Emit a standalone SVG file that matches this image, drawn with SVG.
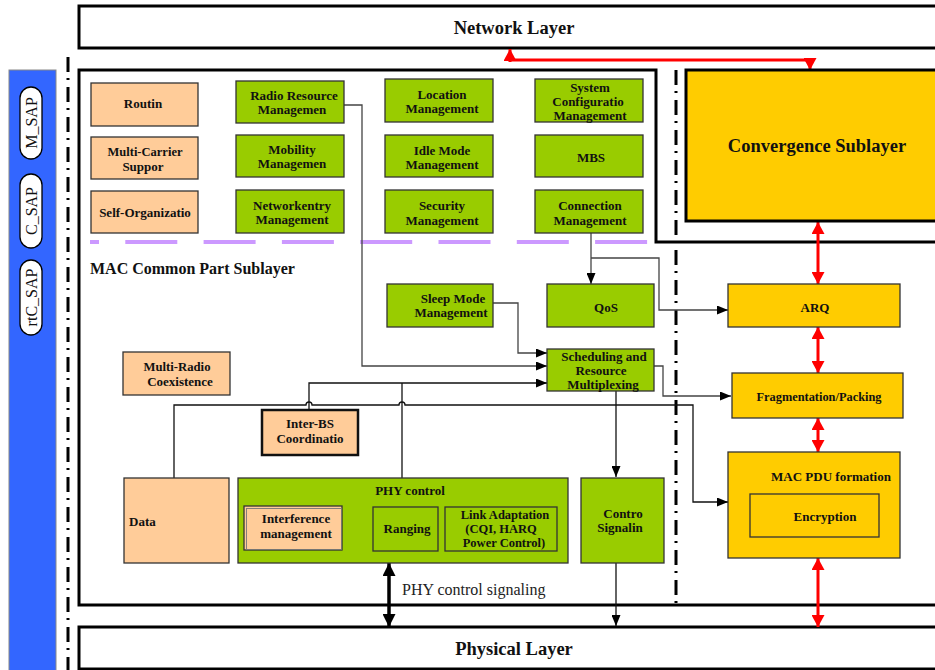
<svg xmlns="http://www.w3.org/2000/svg" width="935" height="670" viewBox="0 0 935 670">
  <style>
    .t { font-family: "Liberation Serif", "Times New Roman", serif; font-weight: bold; font-size: 13px; text-anchor: middle; fill: #111; }
    .big { font-size: 18.5px; }
    .sap { font-family: "Liberation Serif", "Times New Roman", serif; font-size: 16px; text-anchor: middle; fill: #111; }
    .peach { fill: #FFCC99; stroke: #333; stroke-width: 1.3; }
    .green { fill: #99CC00; stroke: #333; stroke-width: 1.3; }
    .yellow { fill: #FFCC00; stroke: #333; stroke-width: 1.3; }
    .frame { fill: none; stroke: #000; stroke-width: 3; }
    .dashdot { fill: none; stroke: #000; stroke-width: 3; stroke-dasharray: 15 6 2 7; }
    .wire { fill: none; stroke: #444; stroke-width: 1.3; }
    .wireb { fill: none; stroke: #111; stroke-width: 1.3; }
    .red { fill: none; stroke: #FF0000; stroke-width: 3; }
    .thick { fill: none; stroke: #000; stroke-width: 3.5; }
  </style>
  <defs>
    <marker id="arr" markerUnits="userSpaceOnUse" markerWidth="11" markerHeight="9" refX="11" refY="4.5" orient="auto">
      <path d="M0,0 L11,4.5 L0,9 z" fill="#000"/>
    </marker>
    <marker id="redArr" markerUnits="userSpaceOnUse" markerWidth="12" markerHeight="13" refX="12" refY="6.5" orient="auto-start-reverse">
      <path d="M0,0 L12,6.5 L0,13 z" fill="#FF0000"/>
    </marker>
    <marker id="blkArr" markerUnits="userSpaceOnUse" markerWidth="13" markerHeight="13" refX="13" refY="6.5" orient="auto-start-reverse">
      <path d="M0,0 L13,6.5 L0,13 z" fill="#000"/>
    </marker>
  </defs>

  <rect width="935" height="670" fill="#fff"/>

  <!-- SAP bar -->
  <g id="sap-bar">
    <rect x="9" y="70" width="47" height="610" fill="#3366FF" stroke="#888" stroke-width="1"/>
    <rect x="20" y="87" width="22" height="72" rx="11" fill="#fff" stroke="#000" stroke-width="1.3"/>
    <text class="sap" transform="translate(36.5,123) rotate(-90)">M_SAP</text>
    <rect x="20" y="174" width="22" height="74" rx="11" fill="#fff" stroke="#000" stroke-width="1.3"/>
    <text class="sap" transform="translate(36.5,211) rotate(-90)">C_SAP</text>
    <rect x="20" y="260" width="22" height="75" rx="11" fill="#fff" stroke="#000" stroke-width="1.3"/>
    <text class="sap" transform="translate(36.5,297.5) rotate(-90)">rtC_SAP</text>
  </g>

  <!-- layer frames and boundaries -->
  <g id="frames">
    <line class="dashdot" x1="68" y1="57" x2="68" y2="670"/>
    <line class="dashdot" x1="676" y1="70" x2="676" y2="605"/>
    <path class="frame" d="M940,242 H656 V70 H79 V605 H940"/>
    <line x1="90" y1="242" x2="648" y2="242" stroke="#CC99FF" stroke-width="4" stroke-dasharray="52 26.3" stroke-dashoffset="43"/>
    <text class="t" x="90" y="274" style="text-anchor:start;font-size:16px">MAC Common Part Sublayer</text>
  </g>

  <g id="network-layer">
    <rect class="frame" x="79" y="6" width="870" height="42"/>
    <text class="t big" x="514" y="34">Network Layer</text>
  </g>
  <g id="physical-layer">
    <rect class="frame" x="79" y="627" width="870" height="42"/>
    <text class="t big" x="514" y="655">Physical Layer</text>
  </g>

  <!-- connectors -->
  <g id="connectors">
    <path class="wire" d="M344,105 H362 V366 H547" marker-end="url(#arr)"/>
    <path class="wire" d="M493,303 H518 V353 H547" marker-end="url(#arr)"/>
    <path class="wire" d="M591,233 V284" marker-end="url(#arr)"/>
    <path class="wire" d="M591,258 H659 V310 H728" marker-end="url(#arr)"/>
    <path class="wire" d="M654,366 H663 V396 H731" marker-end="url(#arr)"/>
    <path class="wireb" d="M616,391 V477" marker-end="url(#arr)"/>
    <path class="wireb" d="M616,563 V626" marker-end="url(#arr)"/>
    <path class="wireb" d="M309,410 V383 H547" marker-end="url(#arr)"/>
    <path class="wireb" d="M402,478 V383"/>
    <path class="wireb" d="M174,478 V405 H306 a3,3 0 0 1 6,0 H399 a3,3 0 0 1 6,0 H693 V502 H728" marker-end="url(#arr)"/>

    <path class="red" d="M510,60 H810"/>
    <path class="red" d="M510,62 V49" marker-end="url(#redArr)"/>
    <path class="red" d="M810,58 V70" marker-end="url(#redArr)"/>
    <path class="red" d="M818,222 V284" marker-start="url(#redArr)" marker-end="url(#redArr)"/>
    <path class="red" d="M818,327 V373" marker-start="url(#redArr)" marker-end="url(#redArr)"/>
    <path class="red" d="M818,418 V452" marker-start="url(#redArr)" marker-end="url(#redArr)"/>
    <path class="red" d="M818,558 V627" marker-start="url(#redArr)" marker-end="url(#redArr)"/>

    <path class="thick" d="M389,563 V627" marker-start="url(#blkArr)" marker-end="url(#blkArr)"/>
    <text x="402" y="595" style="font-family:'Liberation Serif','Times New Roman',serif;font-size:16px;fill:#222">PHY control signaling</text>
  </g>

  <!-- management entities -->
  <g id="routing"><rect class="peach" x="91" y="83" width="107" height="43"/><text class="t" x="143" y="108">Routin</text></g>
  <g id="multicarrier"><rect class="peach" x="91" y="137" width="107" height="42"/><text class="t" x="145" y="156" textLength="75" lengthAdjust="spacingAndGlyphs">Multi-Carrier</text><text class="t" x="143" y="171">Suppor</text></g>
  <g id="self-org"><rect class="peach" x="91" y="191" width="107" height="42"/><text class="t" x="145" y="217">Self-Organizatio</text></g>

  <g id="rrm"><rect class="green" x="236" y="81" width="108" height="42"/><text class="t" x="294" y="100">Radio Resource</text><text class="t" x="292" y="114">Managemen</text></g>
  <g id="mobility"><rect class="green" x="236" y="135" width="108" height="42"/><text class="t" x="292" y="154">Mobility</text><text class="t" x="292" y="168">Managemen</text></g>
  <g id="network-entry"><rect class="green" x="236" y="190" width="108" height="43"/><text class="t" x="292" y="210">Networkentry</text><text class="t" x="292" y="224">Management</text></g>

  <g id="location"><rect class="green" x="385" y="79" width="108" height="43"/><text class="t" x="442" y="99">Location</text><text class="t" x="442" y="113">Management</text></g>
  <g id="idle-mode"><rect class="green" x="385" y="135" width="108" height="42"/><text class="t" x="442" y="155">Idle Mode</text><text class="t" x="442" y="169">Management</text></g>
  <g id="security"><rect class="green" x="385" y="190" width="108" height="43"/><text class="t" x="442" y="210">Security</text><text class="t" x="442" y="225">Management</text></g>

  <g id="system-config"><rect class="green" x="535" y="79" width="108" height="43"/><text class="t" x="590" y="92">System</text><text class="t" x="588" y="106">Configuratio</text><text class="t" x="590" y="120">Management</text></g>
  <g id="mbs"><rect class="green" x="535" y="135" width="108" height="42"/><text class="t" x="591" y="162">MBS</text></g>
  <g id="connection"><rect class="green" x="535" y="190" width="108" height="43"/><text class="t" x="590" y="210">Connection</text><text class="t" x="590" y="225">Management</text></g>

  <g id="sleep-mode"><rect class="green" x="387" y="284" width="106" height="43"/><text class="t" x="453" y="303">Sleep Mode</text><text class="t" x="451" y="317">Management</text></g>
  <g id="qos"><rect class="green" x="547" y="284" width="107" height="43"/><text class="t" x="606" y="312">QoS</text></g>
  <g id="scheduling"><rect class="green" x="547" y="349" width="107" height="42"/><text class="t" x="604" y="361">Scheduling and</text><text class="t" x="601" y="375">Resource</text><text class="t" x="603" y="389">Multiplexing</text></g>

  <g id="multi-radio"><rect class="peach" x="123" y="352" width="107" height="43"/><text class="t" x="177" y="371" textLength="67" lengthAdjust="spacingAndGlyphs">Multi-Radio</text><text class="t" x="180" y="386">Coexistence</text></g>
  <g id="inter-bs"><rect x="262" y="410" width="96" height="45" fill="#FFCC99" stroke="#111" stroke-width="2.5"/><text class="t" x="310" y="428">Inter-BS</text><text class="t" x="310" y="443">Coordinatio</text></g>

  <g id="data"><rect class="peach" x="124" y="478" width="105" height="85"/><text class="t" x="129" y="526" style="text-anchor:start">Data</text></g>

  <g id="phy-control">
    <rect class="green" x="238" y="478" width="330" height="85"/>
    <text class="t" x="410" y="495">PHY control</text>
    <g id="interference">
      <rect x="244" y="506" width="98" height="44" fill="#FFCC99" stroke="#333" stroke-width="1.3"/>
      <rect x="246.5" y="508.5" width="95" height="41" fill="none" stroke="#777" stroke-width="0.9"/>
      <text class="t" x="296" y="523">Interference</text><text class="t" x="296" y="538">management</text>
    </g>
    <g id="ranging"><rect class="green" x="373" y="507" width="65" height="44"/><text class="t" x="407" y="533">Ranging</text></g>
    <g id="link-adaptation"><rect class="green" x="445" y="507" width="112" height="44"/><text class="t" x="505" y="519" style="font-size:12.5px">Link Adaptation</text><text class="t" x="501" y="533" style="font-size:12.5px">(CQI, HARQ</text><text class="t" x="504" y="547" style="font-size:12.5px">Power Control)</text></g>
  </g>

  <g id="control-signaling"><rect class="green" x="581" y="478" width="83" height="85"/><text class="t" x="623" y="518">Contro</text><text class="t" x="620" y="532">Signalin</text></g>

  <!-- convergence and MAC PDU chain -->
  <g id="convergence"><rect x="686" y="70" width="260" height="151" fill="#FFCC00" stroke="#000" stroke-width="3"/><text class="t big" x="817" y="152">Convergence Sublayer</text></g>
  <g id="arq"><rect class="yellow" x="728" y="284" width="172" height="43"/><text class="t" x="815" y="312">ARQ</text></g>
  <g id="fragmentation"><rect class="yellow" x="732" y="373" width="171" height="45"/><text class="t" x="819" y="401" textLength="125" lengthAdjust="spacingAndGlyphs">Fragmentation/Packing</text></g>
  <g id="mac-pdu">
    <rect class="yellow" x="728" y="452" width="172" height="106"/>
    <text class="t" x="831" y="481">MAC PDU formation</text>
    <g id="encryption"><rect class="yellow" x="750" y="494" width="129" height="43"/><text class="t" x="825" y="521">Encryption</text></g>
  </g>
</svg>
